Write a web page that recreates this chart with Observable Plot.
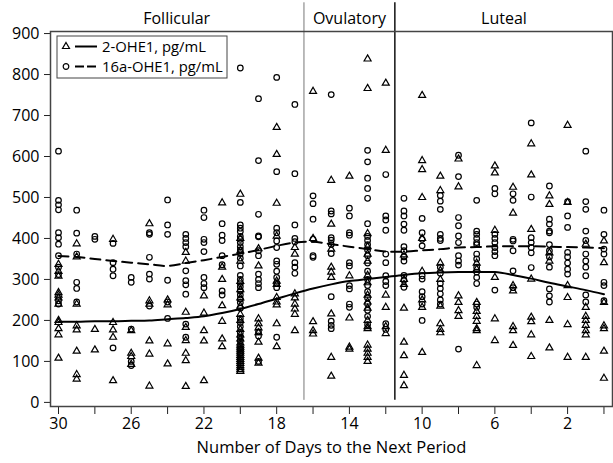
<!DOCTYPE html>
<html><head><meta charset="utf-8">
<script src="https://cdn.jsdelivr.net/npm/d3@7"></script>
<script src="https://cdn.jsdelivr.net/npm/@observablehq/plot@0.6"></script>
<style>
body{margin:0;background:#fff;}
#chart{width:613px;height:463px;position:relative;}
</style></head><body><div id="chart"></div>
<script>
const days = [30,29,28,27,26,25,24,23,22,21,20,19,18,17,16,15,14,13,12,11,10,9,8,7,6,5,4,3,2,1,0];

// 2-OHE1 (triangles), pg/mL, per day
const ohe2 = [
  [337,320,308,268,262,255,240,200,195,180,165,108],
  [387,355,240,187,177,125,68,57],
  [178,128],
  [398,195,177,159,53],
  [175,120,112,93],
  [436,248,240,150,118,40],
  [250,238,143,94],
  [366,345,220,183,151,120,102,39],
  [260,218,175,150,53],
  [487,330,300,236,198,155,136],
  [508,400,370,345,295,275,255,235,215,200,178,165,155,145,140,135,130,125,120,115,110,105,100,95,90,85,80,76],
  [375,333,204,192,182,170,147,108,96],
  [671,605,486,406,296,288,256,245,238,192,136],
  [378,362,265,255,240,228,215,175],
  [759,400,197,175,167],
  [542,435,374,330,318,305,216,110,64],
  [552,309,206,135,130],
  [838,766,412,380,362,345,310,292,262,245,230,200,185,180,140,130,120,110,100],
  [779,615,262,232,185,168],
  [360,300,288,230,147,114,66,41],
  [749,590,568,500,400,320,250,232,122],
  [552,517,340,322,300,235,192,178,170],
  [594,526,260,244,224,210],
  [340,325,244,222,210,198,180,175,90],
  [577,560,420,305,204,151],
  [525,462,285,272,185,175,139],
  [631,555,422,301,208,197,165,112],
  [504,483,365,345,200,133],
  [676,488,285,256,190,110],
  [386,232,210,200,188,175,165,110],
  [394,341,244,187,180,125,59]
];

// 16a-OHE1 (circles), pg/mL, per day
const ohe16 = [
  [613,493,482,470,414,402,386,358,330,312,248,240],
  [469,413,362,293,278,245],
  [405,398],
  [388,341,325,309,133],
  [305,293,179,100,90],
  [414,410,354,313,301,235],
  [494,433,410,298,245,205],
  [410,400,390,380,321,297,287,264,191,159],
  [469,451,398,390,368,305,290,280],
  [436,408,395,358,336,272,262],
  [816,488,433,425,417,405,398,390,380,372,363,352,333,310,300,290,282,272,262,252,244,230,205,195,185,170,160,150,130,120],
  [741,590,459,406,404,370,358,313,300,290,280,172,162,100],
  [793,563,425,414,394,378,345,337,320,305,290,280,159],
  [727,558,433,400,392,341,330,315],
  [504,485,447,398,358,354],
  [751,467,460,402,396,385,363,258,198,188,180],
  [474,455,414,408,341,333,285,277,240,232],
  [615,587,547,522,498,436,405,395,385,372,358,340,320,300,285,270,255,240,225,210,190],
  [556,455,445,420,362,341,309,295,285,192,178],
  [498,467,455,435,420,380,370,355,345,310,298,281],
  [449,414,398,382,309,301,270,258,240,200],
  [505,491,471,410,400,395,330,315,290,278,265,250,240],
  [603,551,451,431,406,390,358,345,335,130],
  [493,418,410,400,390,385,362,350,330,318,305,290,240,232],
  [522,509,410,400,390,378,368,358,274],
  [509,493,398,394,370,321,280],
  [682,501,402,390,378,365,329],
  [528,447,435,418,414,385,370,355,330,277,260,245],
  [490,455,427,366,355,340,325,313],
  [613,490,471,418,395,362,345,330,309,262,245],
  [469,410,374,362,293,285,248]
];

// smoothed trends, per day
const ohe2Trend  = [197,197,198,198,199,200,203,206,210,218,228,240,253,266,278,288,296,301,306,311,315,317,318,318,318,311,302,292,283,274,264];
const ohe16Trend = [357,355,350,345,341,337,333,340,347,355,363,372,382,390,392,386,380,374,368,368,371,374,378,379,381,381,381,380,379,378,376];

const phaseLabels = ["Follicular","Ovulatory","Luteal"];
const phaseCenters = [23.5, 14, 5.5];
const phaseBounds = [16.5, 11.5];
const yTicks = [0,100,200,300,400,500,600,700,800,900];
const xTicks = [30,28,26,24,22,20,18,16,14,12,10,8,6,4,2,0];
const xLabelTicks = [30,26,22,18,14,10,6,2];
const legendLabels = ["2-OHE1, pg/mL","16a-OHE1, pg/mL"];
const xTitle = "Number of Days to the Next Period";

const pts2 = days.flatMap((d,i) => ohe2[i].map(v => ({day:d, value:v})));
const pts16 = days.flatMap((d,i) => ohe16[i].map(v => ({day:d, value:v})));
const trend2 = days.map((d,i) => ({day:d, value:ohe2Trend[i]}));
const trend16 = days.map((d,i) => ({day:d, value:ohe16Trend[i]}));

const FONT = "'Open Sans', 'Noto Sans', sans-serif";

const svg = Plot.plot({
  width: 613, height: 463,
  marginLeft: 50, marginRight: 1, marginTop: 31, marginBottom: 57,
  style: {fontFamily: FONT, fontSize: "16px", color: "#000", background: "#fff", overflow: "visible"},
  x: {domain: [30.44, -0.47]},
  y: {domain: [-10, 905]},
  marks: [
    Plot.axisX(xTicks, {tickSize: 8, tickPadding: 3, tickFormat: d => xLabelTicks.includes(d) ? String(d) : "", label: null, fontSize: 16, stroke: "#222"}),
    Plot.axisY(yTicks, {tickSize: 6, tickPadding: 5, label: null, fontSize: 16, stroke: "#222"}),
    Plot.ruleX([phaseBounds[0]], {y1: 5, y2: 975, stroke: "#777", strokeWidth: 1}),
    Plot.ruleX([phaseBounds[1]], {y1: 5, y2: 975, stroke: "#000", strokeWidth: 1.4}),
    Plot.frame({stroke: "#444", strokeWidth: 1.5}),
    Plot.line(trend2, {x: "day", y: "value", stroke: "#000", strokeWidth: 2, curve: "catmull-rom"}),
    Plot.line(trend16, {x: "day", y: "value", stroke: "#000", strokeWidth: 2, strokeDasharray: "10,6", curve: "catmull-rom"}),
    Plot.dot(pts2, {x: "day", y: "value", symbol: "triangle", r: 2.6, stroke: "#000", fill: "none", strokeWidth: 1.2}),
    Plot.dot(pts16, {x: "day", y: "value", symbol: "circle", r: 2.8, stroke: "#000", fill: "none", strokeWidth: 1.2}),
    Plot.text(phaseLabels, {x: (d,i) => phaseCenters[i], y: 937, text: d => d, fontSize: 16, fill: "#000"}),
    Plot.text([xTitle], {frameAnchor: "bottom", dy: 46, text: d => d, fontSize: 16.5, fill: "#000"})
  ]
});

// legend
const g = d3.select(svg).append("g").attr("font-family", FONT).attr("font-size", 14.8).attr("text-anchor", "start");
g.append("rect").attr("x", 57).attr("y", 36).attr("width", 170).attr("height", 42)
  .attr("fill", "#fff").attr("stroke", "#444").attr("stroke-width", 1);
const rows = [
  {label: legendLabels[0], sym: d3.symbolTriangle, r: 2.6, dash: null, y: 46.5},
  {label: legendLabels[1], sym: d3.symbolCircle, r: 2.8, dash: "9,3", y: 66.5}
];
rows.forEach(row => {
  g.append("path").attr("d", d3.symbol(row.sym, Math.PI * row.r * row.r)())
    .attr("transform", `translate(66,${row.y})`).attr("fill", "none").attr("stroke", "#000").attr("stroke-width", 1.2);
  g.append("line").attr("x1", 75).attr("x2", 97).attr("y1", row.y).attr("y2", row.y)
    .attr("stroke", "#000").attr("stroke-width", 2).attr("stroke-dasharray", row.dash);
  g.append("text").attr("x", 102).attr("y", row.y).attr("dy", "0.35em").attr("fill", "#000")
    .attr("text-anchor", "start").text(row.label);
});

document.getElementById("chart").appendChild(svg);
</script>
</body></html>
